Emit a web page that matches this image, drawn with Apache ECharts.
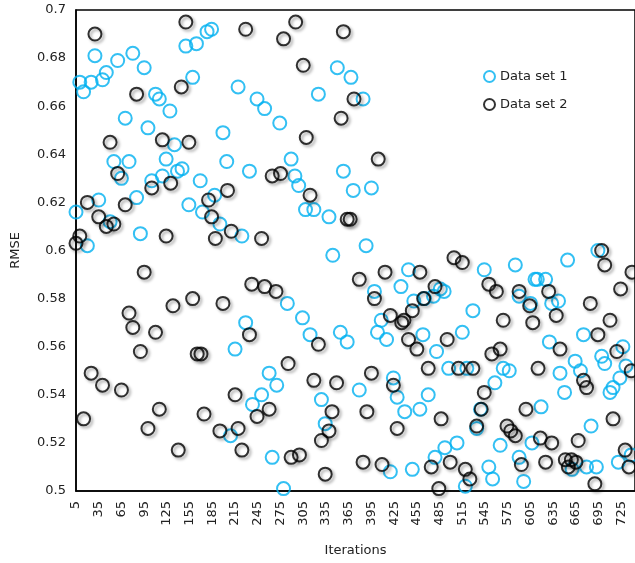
<!DOCTYPE html>
<html>
<head>
<meta charset="utf-8">
<title>RMSE vs Iterations</title>
<script src="https://cdn.jsdelivr.net/npm/echarts@6/dist/echarts.min.js"></script>
<style>
  html, body { margin: 0; padding: 0; background: #fff; }
  #chart { width: 635px; height: 563px; }
</style>
</head>
<body>
<div id="chart"></div>
<script>
// Data set 1 (blue) - iterations and RMSE
const ds1X = [5, 10, 15, 20, 25, 30, 35, 40, 45, 50, 55, 60, 65, 70, 75, 80, 85, 90, 95, 100, 105, 110, 115,
  119, 124, 129, 135, 139, 145, 150, 154, 159, 164, 169, 172, 178, 184, 188, 195, 199, 204, 209, 215, 219, 224, 229, 234, 238, 244,
  250, 254, 260, 264, 270, 274, 279, 284, 289, 294, 299, 304, 308, 314, 319, 325, 329, 334, 339, 344, 350, 354, 358, 363, 368, 371,
  379, 384, 388, 395, 399, 403, 408, 415, 420, 424, 429, 434, 439, 444, 449, 451, 459, 463, 465, 470, 477, 479, 481, 486,
  491, 492, 497, 508, 515, 519, 521, 529, 534, 539, 544, 550, 555, 558, 565, 569, 577, 585, 590, 590, 596, 605, 607, 611,
  614, 619, 625, 630, 633, 642, 644, 650, 654, 660, 664, 671, 675, 679, 685, 692, 694, 699, 703, 710, 714, 721, 723, 727, 731, 738];
const ds1Y = [0.616, 0.670, 0.666, 0.602, 0.670, 0.681, 0.621, 0.671, 0.674, 0.612, 0.637, 0.679, 0.630, 0.655, 0.637, 0.682, 0.622, 0.607, 0.676, 0.651, 0.629, 0.665, 0.663,
  0.631, 0.638, 0.658, 0.644, 0.633, 0.634, 0.685, 0.619, 0.672, 0.686, 0.629, 0.616, 0.691, 0.692, 0.623, 0.611, 0.649, 0.637, 0.523, 0.559, 0.668, 0.606, 0.570, 0.633, 0.536, 0.663,
  0.540, 0.659, 0.549, 0.514, 0.544, 0.653, 0.501, 0.578, 0.638, 0.631, 0.627, 0.572, 0.617, 0.565, 0.617, 0.665, 0.538, 0.528, 0.614, 0.598, 0.676, 0.566, 0.633, 0.562, 0.672, 0.625,
  0.542, 0.663, 0.602, 0.626, 0.583, 0.566, 0.571, 0.563, 0.508, 0.547, 0.539, 0.585, 0.533, 0.592, 0.509, 0.579, 0.534, 0.565, 0.580, 0.540, 0.581, 0.514, 0.558, 0.584,
  0.583, 0.518, 0.551, 0.520, 0.566, 0.502, 0.551, 0.575, 0.526, 0.534, 0.592, 0.510, 0.505, 0.545, 0.519, 0.551, 0.550, 0.594, 0.581, 0.514, 0.504, 0.578, 0.520, 0.588,
  0.588, 0.535, 0.588, 0.562, 0.578, 0.579, 0.549, 0.541, 0.596, 0.509, 0.554, 0.550, 0.565, 0.510, 0.527, 0.510, 0.600, 0.556, 0.553, 0.541, 0.543, 0.512, 0.547, 0.560, 0.552, 0.515];

// Data set 2 (black)
const ds2X = [5, 10, 15, 20, 25, 30, 35, 40, 45, 50, 55, 60, 65, 70, 75, 80, 85, 90, 95, 100, 105, 110, 115,
  119, 124, 130, 133, 140, 144, 150, 154, 159, 165, 170, 174, 180, 184, 189, 195, 199, 205, 210, 215, 219, 224, 229, 234, 237, 244,
  250, 254, 260, 264, 269, 275, 279, 285, 289, 295, 300, 305, 309, 314, 319, 325, 329, 334, 339, 343, 349, 355, 358, 363, 367, 372,
  379, 384, 389, 395, 399, 404, 409, 413, 420, 424, 429, 435, 438, 444, 449, 455, 459, 464, 470, 474, 479, 484, 487,
  495, 499, 504, 510, 515, 519, 525, 529, 534, 540, 544, 550, 554, 560, 565, 569, 574, 579, 585, 590, 593, 599, 604, 608,
  615, 618, 625, 629, 633, 639, 644, 651, 655, 659, 665, 668, 675, 679, 684, 690, 694, 699, 703, 710, 714, 719, 724, 730, 735, 738, 739];
const ds2Y = [0.603, 0.606, 0.530, 0.620, 0.549, 0.690, 0.614, 0.544, 0.610, 0.645, 0.611, 0.632, 0.542, 0.619, 0.574, 0.568, 0.665, 0.558, 0.591, 0.526, 0.626, 0.566, 0.534,
  0.646, 0.606, 0.628, 0.577, 0.517, 0.668, 0.695, 0.645, 0.580, 0.557, 0.557, 0.532, 0.621, 0.614, 0.605, 0.525, 0.578, 0.625, 0.608, 0.540, 0.526, 0.517, 0.692, 0.565, 0.586, 0.531,
  0.605, 0.585, 0.534, 0.631, 0.583, 0.632, 0.688, 0.553, 0.514, 0.695, 0.515, 0.677, 0.647, 0.623, 0.546, 0.561, 0.521, 0.507, 0.525, 0.533, 0.545, 0.655, 0.691, 0.613, 0.613, 0.663,
  0.588, 0.512, 0.533, 0.549, 0.580, 0.638, 0.511, 0.591, 0.573, 0.544, 0.526, 0.570, 0.571, 0.563, 0.575, 0.559, 0.591, 0.580, 0.551, 0.510, 0.585, 0.501, 0.530,
  0.563, 0.512, 0.597, 0.551, 0.595, 0.509, 0.505, 0.551, 0.527, 0.534, 0.541, 0.586, 0.557, 0.583, 0.559, 0.571, 0.527, 0.525, 0.523, 0.583, 0.511, 0.534, 0.577, 0.570,
  0.551, 0.522, 0.512, 0.583, 0.520, 0.573, 0.559, 0.513, 0.510, 0.513, 0.512, 0.521, 0.546, 0.543, 0.578, 0.503, 0.565, 0.600, 0.594, 0.571, 0.530, 0.558, 0.584, 0.517, 0.510, 0.550, 0.591];

const seriesNames = ['Data set 1', 'Data set 2'];
const FONT = 'DejaVu Sans, Verdana, sans-serif';

const zip = (xs, ys) => xs.map((x, i) => [x, ys[i]]);

const chart = echarts.init(document.getElementById('chart'), null, { renderer: 'canvas' });

const option = {
  animation: false,
  backgroundColor: '#fff',
  grid: {
    left: 76,
    right: -3,
    top: 10,
    bottom: 72,
    show: true,
    borderColor: '#000',
    borderWidth: 1.5
  },
  legend: {
    orient: 'vertical',
    left: 478,
    top: 65,
    itemGap: 15,
    itemWidth: 11,
    itemHeight: 11,
    textStyle: { fontFamily: FONT, fontSize: 13, color: '#222' },
    data: seriesNames
  },
  xAxis: {
    type: 'value',
    min: 5,
    max: 743,
    interval: 30,
    name: 'Iterations',
    nameLocation: 'middle',
    nameGap: 53,
    nameTextStyle: { fontFamily: FONT, fontSize: 13, color: '#222' },
    axisLine: { show: true, lineStyle: { color: '#000', width: 1.5 } },
    axisTick: { show: false },
    splitLine: { show: false },
    axisLabel: {
      rotate: 90,
      margin: 10,
      showMaxLabel: false,
      fontFamily: FONT,
      fontSize: 13,
      color: '#222'
    }
  },
  yAxis: {
    type: 'value',
    min: 0.5,
    max: 0.7,
    interval: 0.02,
    name: 'RMSE',
    nameLocation: 'middle',
    nameGap: 54,
    nameTextStyle: { fontFamily: FONT, fontSize: 13, color: '#222' },
    axisLine: { show: true, lineStyle: { color: '#000', width: 1.5 } },
    axisTick: { show: false },
    splitLine: { show: false },
    axisLabel: { margin: 10, fontFamily: FONT, fontSize: 13, color: '#222' }
  },
  series: [
    {
      name: seriesNames[0],
      type: 'scatter',
      symbol: 'circle',
      symbolSize: 13,
      data: zip(ds1X, ds1Y),
      itemStyle: {
        color: 'rgba(0,0,0,0)',
        borderColor: '#00b0f0',
        borderWidth: 2
      }
    },
    {
      name: seriesNames[1],
      type: 'scatter',
      symbol: 'circle',
      symbolSize: 13,
      data: zip(ds2X, ds2Y),
      itemStyle: {
        color: 'rgba(0,0,0,0)',
        borderColor: '#000',
        borderWidth: 2,
        shadowBlur: 3,
        shadowOffsetX: 2,
        shadowOffsetY: 2,
        shadowColor: 'rgba(0,0,0,0.45)'
      }
    }
  ]
};

chart.setOption(option);
</script>
</body>
</html>
